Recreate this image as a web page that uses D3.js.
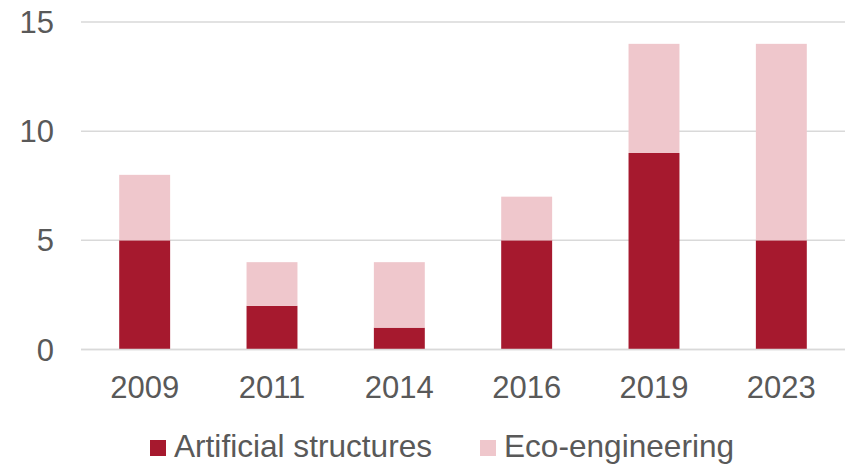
<!DOCTYPE html>
<html>
<head>
<meta charset="utf-8">
<script src="https://cdn.jsdelivr.net/npm/d3@7"></script>
<style>
  html, body { margin: 0; padding: 0; background: #fff; }
  svg { display: block; font-family: "Liberation Sans", Arial, sans-serif; }
</style>
</head>
<body>
<svg id="chart" width="848" height="465"></svg>
<script>
// Survey years and counts per approach
const years = ["2009", "2011", "2014", "2016", "2019", "2023"];
const artificial = [5, 2, 1, 5, 9, 5];
const ecoEngineering = [3, 2, 3, 2, 5, 9];
const seriesNames = ["Artificial structures", "Eco-engineering"];
const seriesColors = ["#A6192E", "#EFC7CC"];
const yTicks = [0, 5, 10, 15];

const svg = d3.select("#chart");
const textColor = "#595959";
const fontSize = 31;

const x = d3.scaleBand()
  .domain(years)
  .range([81, 845])
  .paddingInner(0.6)
  .paddingOuter(0.3);

const y = d3.scaleLinear()
  .domain([0, 15])
  .range([349.5, 22]);

// Horizontal gridlines
svg.append("g")
  .selectAll("line")
  .data(yTicks)
  .join("line")
  .attr("x1", 81)
  .attr("x2", 845)
  .attr("y1", d => y(d))
  .attr("y2", d => y(d))
  .attr("stroke", "#D9D9D9")
  .attr("stroke-width", 1.5);

// Stacked bars
const rows = years.map((yr, i) => ({ year: yr, a: artificial[i], e: ecoEngineering[i] }));
const stack = d3.stack().keys(["a", "e"])(rows);

svg.append("g")
  .selectAll("g")
  .data(stack)
  .join("g")
  .attr("fill", (d, i) => seriesColors[i])
  .selectAll("rect")
  .data(d => d)
  .join("rect")
  .attr("x", d => x(d.data.year))
  .attr("width", x.bandwidth())
  .attr("y", d => y(d[1]))
  .attr("height", d => y(d[0]) - y(d[1]));

// Baseline
svg.append("line")
  .attr("x1", 81).attr("x2", 845)
  .attr("y1", y(0)).attr("y2", y(0))
  .attr("stroke", "#D9D9D9")
  .attr("stroke-width", 1.5);

// Y axis labels
svg.append("g")
  .selectAll("text")
  .data(yTicks)
  .join("text")
  .attr("x", 54)
  .attr("y", d => y(d) + 11)
  .attr("text-anchor", "end")
  .attr("fill", textColor)
  .attr("font-size", fontSize)
  .text(d => d);

// X axis labels
svg.append("g")
  .selectAll("text")
  .data(years)
  .join("text")
  .attr("x", d => x(d) + x.bandwidth() / 2)
  .attr("y", 398)
  .attr("text-anchor", "middle")
  .attr("fill", textColor)
  .attr("font-size", fontSize)
  .text(d => d);

// Legend
const legendX = [150, 480];
const legend = svg.append("g")
  .selectAll("g")
  .data(seriesNames)
  .join("g")
  .attr("transform", (d, i) => `translate(${legendX[i]},440)`);

legend.append("rect")
  .attr("width", 16)
  .attr("height", 16)
  .attr("fill", (d, i) => seriesColors[i]);

legend.append("text")
  .attr("x", 24)
  .attr("y", 16.5)
  .attr("fill", textColor)
  .attr("font-size", 31.6)
  .text(d => d);
</script>
</body>
</html>
